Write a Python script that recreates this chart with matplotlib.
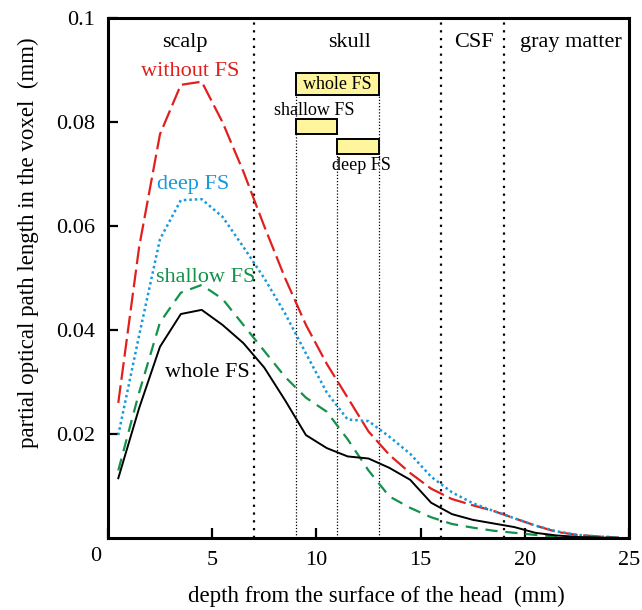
import matplotlib
matplotlib.use("Agg")
import matplotlib.pyplot as plt
import numpy as np

plt.rcParams["font.family"] = ["Liberation Serif", "DejaVu Serif"]

# ---------------------------------------------------------------------------
# data (depth in mm, partial optical path length in mm)
# ---------------------------------------------------------------------------
depth = np.arange(0.5, 25.0, 1.0)

without_fs = [0.026, 0.056, 0.0777, 0.0872, 0.0878, 0.080, 0.0705, 0.060, 0.050,
              0.041, 0.0335, 0.027, 0.0205, 0.016, 0.0125, 0.0095, 0.0075, 0.0063,
              0.0052, 0.0038, 0.0024, 0.0012, 0.0006, 0.0003, 0.0001]
deep_fs = [0.0198, 0.039, 0.0575, 0.065, 0.0652, 0.0618, 0.056, 0.050, 0.0432,
           0.0355, 0.028, 0.0228, 0.0225, 0.0195, 0.0162, 0.0118, 0.0088, 0.0067,
           0.0052, 0.0038, 0.0024, 0.0013, 0.0006, 0.0003, 0.0001]
shallow_fs = [0.013, 0.028, 0.0415, 0.0472, 0.0487, 0.046, 0.041, 0.036, 0.031,
              0.027, 0.0243, 0.019, 0.013, 0.008, 0.0058, 0.004, 0.0027, 0.002,
              0.0014, 0.001, 0.0006, 0.0003, 0.0002, 0.0001, 0.0]
whole_fs = [0.0115, 0.025, 0.0368, 0.0431, 0.0439, 0.041, 0.0375, 0.0328, 0.0265,
            0.0198, 0.0173, 0.0157, 0.0153, 0.0135, 0.0112, 0.0068, 0.0046, 0.0035,
            0.0028, 0.0021, 0.001, 0.0005, 0.0002, 0.0001, 0.0]

# tissue boundaries and region names
boundaries = [7, 16, 19]
regions = ["scalp", "skull", "CSF", "gray matter"]
region_x = [3.7, 11.6, 17.55, 22.2]

# fat-saturation ranges (start, end) inside the skull
fs_names = ["whole FS", "shallow FS", "deep FS"]
fs_start = [9, 9, 11]
fs_end = [13, 11, 13]

RED = "#e0201e"
BLUE = "#1899db"
GREEN = "#12924a"
YELLOW = "#fff59d"

fig = plt.figure(figsize=(6.42, 6.10), dpi=100)
ax = fig.add_axes([0.168, 0.118, 0.812, 0.852])

ax.plot(depth, without_fs, color=RED, lw=1.6, dashes=(8, 2.5))
ax.plot(depth, deep_fs, color=BLUE, lw=1.8, ls=(0, (1, 1.2)))
ax.plot(depth, shallow_fs, color=GREEN, lw=1.6, dashes=(5.5, 3.5))
ax.plot(depth, whole_fs, color="black", lw=1.4)

# region boundaries
for b in boundaries:
    ax.axvline(b, color="black", lw=1.6, ls=(0, (1, 2.5)), zorder=1)

# FS bars
bar_y = [0.0852, 0.0777, 0.0738]
bar_h = [0.0042, 0.0029, 0.0029]
for s, e, y, h in zip(fs_start, fs_end, bar_y, bar_h):
    ax.add_patch(plt.Rectangle((s, y), e - s, h, facecolor=YELLOW,
                               edgecolor="black", lw=1.4, zorder=4))
for x, top in [(9, 0.0852), (11, 0.0738), (13, 0.0852)]:
    ax.plot([x, x], [0, top], color="black", lw=0.9, ls=(0, (1, 1.5)), zorder=1)

ax.text(11, 0.0873, fs_names[0], ha="center", va="center", fontsize=13, zorder=5)
ax.text(9.9, 0.0823, fs_names[1], ha="center", va="center", fontsize=13)
ax.text(12.15, 0.0717, fs_names[2], ha="center", va="center", fontsize=13)

for name, x in zip(regions, region_x):
    ax.text(x, 0.0954, name, ha="center", va="center", fontsize=16)

ax.text(3.94, 0.0898, "without FS", color=RED, ha="center", va="center", fontsize=16)
ax.text(4.1, 0.0680, "deep FS", color=BLUE, ha="center", va="center", fontsize=16)
ax.text(4.7, 0.0502, "shallow FS", color=GREEN, ha="center", va="center", fontsize=16)
ax.text(4.77, 0.0318, "whole FS", color="black", ha="center", va="center", fontsize=16)

ax.set_xlim(0, 25)
ax.set_ylim(0, 0.1)
ax.set_xticks([0, 5, 10, 15, 20, 25])
ax.set_xticklabels(["", "5", "10", "15", "20", "25"])
ax.set_yticks([0.02, 0.04, 0.06, 0.08, 0.1])
ax.set_yticklabels(["0.02", "0.04", "0.06", "0.08", "0.1"])
ax.text(-0.6, -0.0035, "0", ha="center", va="center", fontsize=16)
ax.tick_params(direction="in", length=7, width=1.6, labelsize=16, pad=9,
               top=False, right=False)
for sp in ax.spines.values():
    sp.set_linewidth(2.2)

ax.set_xlabel("depth from the surface of the head  (mm)", fontsize=16.5)
ax.set_ylabel("partial optical path length in the voxel  (mm)", fontsize=16.5)
ax.xaxis.set_label_coords(0.516, -0.092)
ax.yaxis.set_label_coords(-0.132, 0.569)

fig.savefig("out.png", dpi=100)
